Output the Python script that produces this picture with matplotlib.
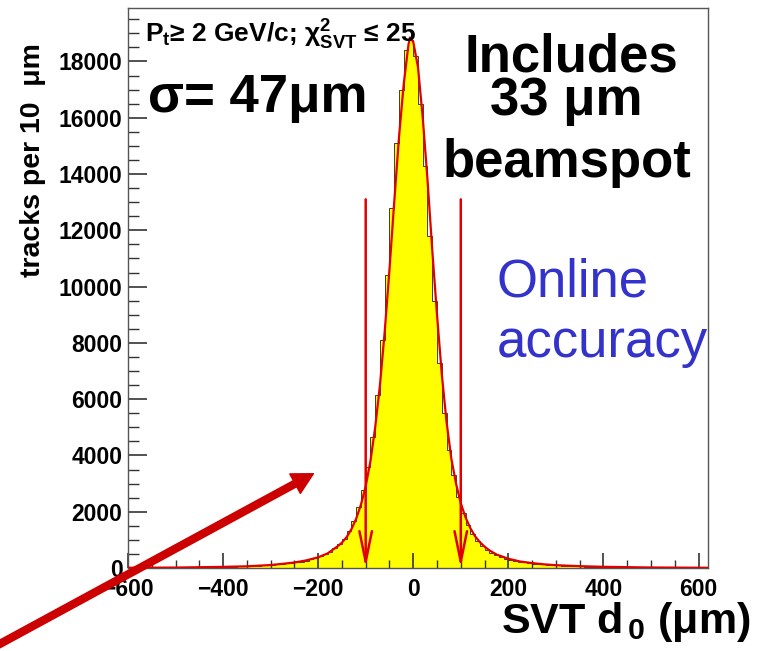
import numpy as np
import matplotlib.pyplot as plt

plt.rcParams['font.family'] = ['Liberation Sans', 'DejaVu Sans']
plt.rcParams['font.weight'] = 'bold'
plt.rcParams['mathtext.fontset'] = 'custom'
plt.rcParams['mathtext.rm'] = 'Liberation Sans:bold'
plt.rcParams['mathtext.it'] = 'Liberation Sans:italic'
plt.rcParams['mathtext.bf'] = 'Liberation Sans:bold'

# histogram: tracks per 10 um bin, from -600 to 620 um
bin_lo = -600
bin_w = 10
counts = [
    8, 8, 9, 9, 10, 10, 11, 11, 12, 15,              # -600 .. -500
    16, 17, 18, 20, 22, 24, 27, 30, 33, 40,          # -500 .. -400
    43, 47, 51, 55, 60, 66, 73, 80, 90, 100,         # -400 .. -300
    115, 130, 150, 168, 182, 205, 230, 265, 305, 350,  # -300 .. -200
    410, 485, 580, 700, 850, 1030, 1310, 1680, 2160, 2770,  # -200 .. -100
    3580, 4660, 6150, 8100, 10400, 12800, 15100, 17000, 18400, 18750,  # -100 .. 0
    18200, 16500, 14300, 11800, 9500, 7300, 5500, 4200, 3300, 2520,  # 0 .. 100
    1950, 1530, 1200, 960, 790, 655, 545, 455, 390, 335,  # 100 .. 200
    295, 255, 225, 200, 175, 155, 140, 125, 110, 98,  # 200 .. 300
    90, 82, 75, 68, 62, 57, 52, 48, 44, 41,          # 300 .. 400
    38, 35, 32, 29, 27, 25, 23, 21, 19, 17,          # 400 .. 500
    16, 15, 14, 13, 12, 11, 10, 10, 9, 9,            # 500 .. 600
    8, 8,                                            # 600 .. 620
]

# fitted curve
fit_x = [-600, -500, -400, -350, -300, -275, -250, -225, -200, -180, -160,
         -150, -140, -130, -120, -110, -100, -90, -80, -70, -60, -50, -40,
         -30, -20, -10, -7, 0, 10, 20, 30, 40, 50, 60, 70, 80, 90, 100, 110,
         120, 130, 140, 150, 160, 175, 200, 225, 250, 275, 300, 350, 400,
         500, 620]
fit_y = [8, 16, 40, 60, 105, 148, 195, 270, 380, 520, 760,
         900, 1100, 1380, 1750, 2250, 2900, 3800, 5000, 6500, 8400, 10600, 13000,
         15300, 17200, 18600, 18850, 18700, 17800, 16000, 13800, 11300, 9000,
         6900, 5200, 3900, 3000, 2300, 1800,
         1420, 1130, 920, 760, 630, 480, 330, 230, 175, 130, 100, 65, 42,
         18, 8]

cut_positions = [-100, 100]
cut_arrow_top = 13100

# big pointer arrow (data coords, tail lies outside the frame)
pointer_tip = (-210, 3350)
pointer_tail = (-875, -2750)

edges = bin_lo + bin_w * np.arange(len(counts) + 1)

fig = plt.figure(figsize=(7.69, 6.51), dpi=100)
ax = fig.add_axes([0.1664, 0.1275, 0.7543, 0.8602])

ax.stairs(counts, edges, fill=True, color='#ffff00', zorder=1)
ax.stairs(counts, edges, color='#222222', lw=0.6, zorder=2)
ax.plot(fit_x, fit_y, color='#e00000', lw=1.6, zorder=3)

for xc in cut_positions:
    ax.annotate('', xy=(xc, 0), xytext=(xc, cut_arrow_top),
                arrowprops=dict(arrowstyle='->,head_length=2.2,head_width=0.45',
                                color='#e00000', lw=1.8, shrinkA=0, shrinkB=0),
                zorder=4)

ax.annotate('', xy=pointer_tip, xytext=pointer_tail, annotation_clip=False,
            arrowprops=dict(arrowstyle='simple,head_length=1.5,head_width=1.6,tail_width=0.5',
                            color='#cc0000', mutation_scale=10, shrinkA=0, shrinkB=0),
            zorder=5)

ax.set_xlim(-600, 620)
ax.set_ylim(0, 19900)
ax.set_xticks([-600, -400, -200, 0, 200, 400, 600])
ax.set_xticks(np.arange(-600, 601, 50), minor=True)
ax.set_yticks(np.arange(0, 18001, 2000))
ax.set_yticks(np.arange(0, 19501, 500), minor=True)
ax.tick_params(which='both', direction='in', top=False, right=False,
               labelsize=16.5, color='#333333')
ax.tick_params(axis='x', which='major', length=11, width=1.2, pad=7)
ax.tick_params(axis='x', which='minor', length=6, width=1)
ax.tick_params(axis='y', which='major', length=14, width=1.2, pad=4)
ax.tick_params(axis='y', which='minor', length=8, width=1)
for s in ax.spines.values():
    s.set_color('#555555')
    s.set_linewidth(1.0)

ax.text(-0.164, 0.9375, 'tracks per 10  μm', rotation=90, transform=ax.transAxes,
        ha='center', va='top', fontsize=20.5, fontweight='bold')
ax.text(1.074, -0.116, r'SVT d$_{\,0}$ (μm)', transform=ax.transAxes,
        ha='right', va='baseline', fontsize=31, fontweight='bold')

ax.text(0.029, 0.9375, r'P$_{\mathrm{t}}$≥ 2 GeV/c; $\mathrm{\chi}^{2}_{\mathrm{SVT}}$ ≤ 25',
        transform=ax.transAxes, ha='left', va='baseline', fontsize=19, fontweight='bold',
        zorder=6)
ax.text(0.035, 0.814, 'σ= 47μm', transform=ax.transAxes, ha='left', va='baseline',
        fontsize=38, fontweight='bold', zorder=6)
ax.text(0.765, 0.886, 'Includes', transform=ax.transAxes, ha='center', va='baseline',
        fontsize=38, fontweight='bold')
ax.text(0.755, 0.809, '33 μm', transform=ax.transAxes, ha='center', va='baseline',
        fontsize=38, fontweight='bold')
ax.text(0.757, 0.698, 'beamspot', transform=ax.transAxes, ha='center', va='baseline',
        fontsize=38, fontweight='bold')
ax.text(0.636, 0.484, 'Online', transform=ax.transAxes, ha='left', va='baseline',
        fontsize=38, fontweight='normal', color='#3333cc')
ax.text(0.636, 0.377, 'accuracy', transform=ax.transAxes, ha='left', va='baseline',
        fontsize=38, fontweight='normal', color='#3333cc')

plt.savefig('out.png', dpi=100)
